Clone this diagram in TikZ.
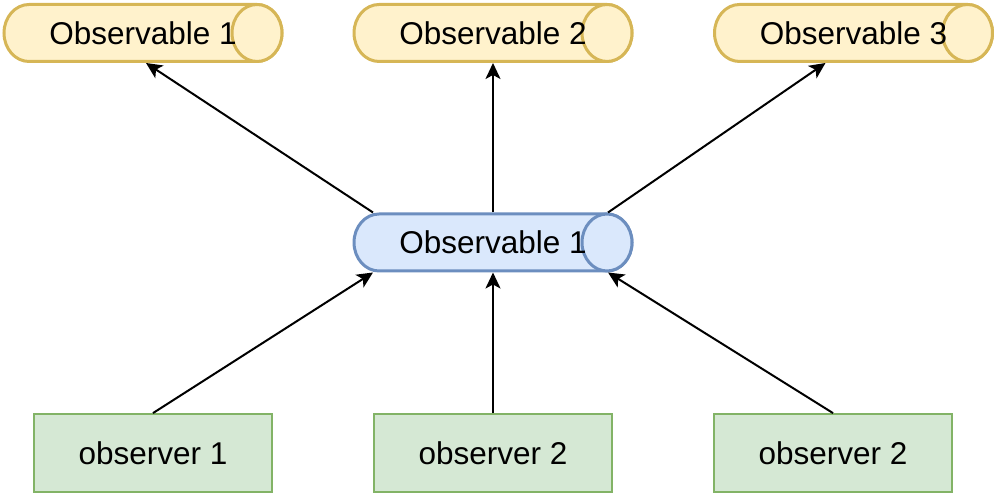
\documentclass[tikz,border=0pt]{standalone}
\usepackage{fontspec}
\setmainfont{Liberation Sans}
\usetikzlibrary{arrows.meta}
\definecolor{yfill}{HTML}{FFF2CC}
\definecolor{ydraw}{HTML}{D6B656}
\definecolor{bfill}{HTML}{DAE8FC}
\definecolor{bdraw}{HTML}{6C8EBF}
\definecolor{gfill}{HTML}{D5E8D4}
\definecolor{gdraw}{HTML}{82B366}
\pgfdeclarelayer{bg}
\pgfsetlayers{bg,main}
\tikzset{
  cylnode/.style={rectangle, draw=none, minimum width=278pt, minimum height=57pt,
    inner sep=0pt, outer sep=0pt, font=\fontsize{31.5}{36}\selectfont},
  cylline/.style={line width=3pt, draw=#1},
  obox/.style={draw=gdraw, fill=gfill, line width=1.8pt, minimum width=238pt,
    minimum height=78pt, inner sep=0pt, font=\fontsize{31.5}{36}\selectfont},
  arr/.style={line width=2pt, -{Stealth[length=16pt,width=15pt,inset=4pt]}}
}
\newcommand\drawcylbody[3]{%
  \path[cylline=#3, fill=#2]
    ([xshift=-25pt]#1.north east) -- ([xshift=25pt]#1.north west)
    arc[start angle=90, end angle=270, x radius=25pt, y radius=28.5pt]
    -- ([xshift=-25pt]#1.south east)
    arc[start angle=-90, end angle=90, x radius=25pt, y radius=28.5pt] -- cycle;
  \path[cylline=#3, fill=#2] ([xshift=-25pt]#1.east) ellipse[x radius=25pt, y radius=28.5pt];}
\begin{document}
\begin{tikzpicture}[x=1pt,y=1pt]
\useasboundingbox (0,0) rectangle (994,494);
\node[cylnode] (o1) at (143,461) {Observable 1};
\node[cylnode] (o2) at (493,461) {Observable 2};
\node[cylnode] (o3) at (853.5,461) {Observable 3};
\node[cylnode] (m) at (493,251.5) {Observable 1};
\begin{pgfonlayer}{bg}
\drawcylbody{o1}{yfill}{ydraw}
\drawcylbody{o2}{yfill}{ydraw}
\drawcylbody{o3}{yfill}{ydraw}
\drawcylbody{m}{bfill}{bdraw}
\end{pgfonlayer}
\node[obox] (b1) at (153,41) {observer 1};
\node[obox] (b2) at (493,41) {observer 2};
\node[obox] (b3) at (833,41) {observer 2};
\draw[arr] (b1.north) -- ([xshift=19pt,yshift=-1.5pt]m.south west);
\draw[arr] (b2.north) -- ([yshift=-1.5pt]m.south);
\draw[arr] (b3.north) -- ([xshift=-24pt,yshift=-1.5pt]m.south east);
\draw[arr] ([xshift=19pt,yshift=1.5pt]m.north west) -- ([xshift=3pt,yshift=-1.5pt]o1.south);
\draw[arr] ([yshift=1.5pt]m.north) -- ([yshift=-1.5pt]o2.south);
\draw[arr] ([xshift=-24pt,yshift=1.5pt]m.north east) -- ([xshift=-28pt,yshift=-1.5pt]o3.south);
\end{tikzpicture}
\end{document}
